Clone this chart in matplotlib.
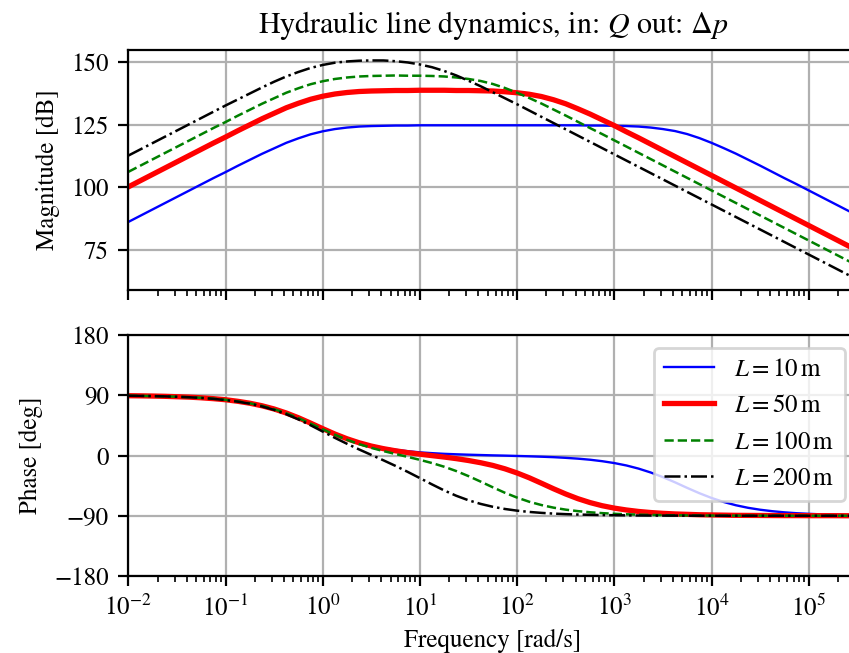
import numpy as np
import matplotlib
matplotlib.use("Agg")
import matplotlib.pyplot as plt

plt.rcParams['font.family'] = ['STIXGeneral', 'DejaVu Serif']
plt.rcParams['mathtext.fontset'] = 'stix'
plt.rcParams['font.size'] = 9

# log10 of frequency [rad/s]
freq_exp = [-2.0, -1.875, -1.75, -1.625, -1.5, -1.375, -1.25, -1.125,
            -1.0, -0.875, -0.75, -0.625, -0.5, -0.375, -0.25, -0.125,
            0.0, 0.125, 0.25, 0.375, 0.5, 0.625, 0.75, 0.875,
            1.0, 1.125, 1.25, 1.375, 1.5, 1.625, 1.75, 1.875,
            2.0, 2.125, 2.25, 2.375, 2.5, 2.625, 2.75, 2.875,
            3.0, 3.125, 3.25, 3.375, 3.5, 3.625, 3.75, 3.875,
            4.0, 4.125, 4.25, 4.375, 4.5, 4.625, 4.75, 4.875,
            5.0, 5.125, 5.25, 5.375, 5.5]

labels = [r'$L = 10\,\mathrm{m}$', r'$L = 50\,\mathrm{m}$',
          r'$L = 100\,\mathrm{m}$', r'$L = 200\,\mathrm{m}$']

# magnitude [dB]
mag_10 = [86.1, 88.6, 91.1, 93.6, 96.1, 98.6, 101.1, 103.6,
          106.0, 108.5, 110.9, 113.3, 115.5, 117.7, 119.5, 121.1,
          122.3, 123.2, 123.8, 124.2, 124.4, 124.5, 124.6, 124.6,
          124.7, 124.7, 124.7, 124.7, 124.7, 124.7, 124.7, 124.7,
          124.7, 124.7, 124.7, 124.7, 124.7, 124.7, 124.6, 124.6,
          124.5, 124.4, 124.2, 123.8, 123.2, 122.4, 121.2, 119.6,
          117.7, 115.6, 113.4, 111.0, 108.6, 106.1, 103.6, 101.2,
          98.7, 96.2, 93.7, 91.2, 88.7]
mag_50 = [100.1, 102.6, 105.1, 107.6, 110.1, 112.6, 115.1, 117.6,
          120.0, 122.5, 124.9, 127.3, 129.5, 131.7, 133.5, 135.1,
          136.3, 137.2, 137.8, 138.2, 138.4, 138.5, 138.6, 138.6,
          138.7, 138.7, 138.7, 138.6, 138.6, 138.5, 138.4, 138.1,
          137.7, 137.1, 136.2, 134.9, 133.3, 131.3, 129.2, 126.9,
          124.6, 122.1, 119.7, 117.2, 114.7, 112.2, 109.7, 107.2,
          104.7, 102.2, 99.7, 97.2, 94.7, 92.2, 89.7, 87.2,
          84.7, 82.2, 79.7, 77.2, 74.7]
mag_100 = [106.1, 108.6, 111.1, 113.6, 116.1, 118.6, 121.1, 123.6,
           126.0, 128.5, 130.9, 133.3, 135.5, 137.7, 139.5, 141.1,
           142.3, 143.2, 143.8, 144.2, 144.4, 144.5, 144.6, 144.5,
           144.5, 144.4, 144.2, 143.8, 143.2, 142.4, 141.2, 139.6,
           137.7, 135.6, 133.4, 131.0, 128.6, 126.1, 123.6, 121.2,
           118.7, 116.2, 113.7, 111.2, 108.7, 106.2, 103.7, 101.2,
           98.7, 96.2, 93.7, 91.2, 88.7, 86.2, 83.7, 81.2,
           78.7, 76.2, 73.7, 71.2, 68.7]
mag_200 = [112.6, 115.1, 117.6, 120.1, 122.6, 125.1, 127.6, 130.1,
           132.6, 135.0, 137.4, 139.8, 142.1, 144.2, 146.0, 147.6,
           148.8, 149.7, 150.2, 150.5, 150.6, 150.6, 150.3, 149.8,
           149.0, 147.9, 146.4, 144.6, 142.5, 140.3, 137.9, 135.5,
           133.1, 130.6, 128.1, 125.6, 123.1, 120.6, 118.1, 115.6,
           113.1, 110.6, 108.1, 105.6, 103.1, 100.6, 98.1, 95.6,
           93.1, 90.6, 88.1, 85.6, 83.1, 80.6, 78.1, 75.6,
           73.1, 70.6, 68.1, 65.6, 63.1]

# phase [deg]
phase_10 = [89.3, 89.1, 88.8, 88.4, 87.9, 87.2, 86.2, 85.0,
            83.3, 81.1, 78.2, 74.4, 69.6, 63.6, 56.5, 48.6,
            40.3, 32.5, 25.5, 19.7, 15.0, 11.3, 8.5, 6.4,
            4.7, 3.5, 2.5, 1.8, 1.2, 0.7, 0.2, -0.2,
            -0.7, -1.2, -1.8, -2.5, -3.5, -4.7, -6.3, -8.5,
            -11.3, -14.9, -19.6, -25.4, -32.3, -40.1, -48.4, -56.3,
            -63.4, -69.4, -74.3, -78.1, -81.0, -83.2, -84.9, -86.2,
            -87.1, -87.9, -88.4, -88.8, -89.1]
phase_50 = [89.3, 89.1, 88.8, 88.4, 87.8, 87.2, 86.2, 84.9,
            83.3, 81.0, 78.1, 74.3, 69.5, 63.5, 56.4, 48.4,
            40.1, 32.1, 25.0, 19.0, 14.1, 10.2, 7.0, 4.3,
            2.0, -0.2, -2.3, -4.7, -7.5, -10.8, -14.8, -19.9,
            -26.1, -33.3, -41.4, -49.7, -57.5, -64.5, -70.3, -75.0,
            -78.6, -81.4, -83.6, -85.2, -86.4, -87.3, -87.9, -88.5,
            -88.8, -89.1, -89.4, -89.5, -89.6, -89.7, -89.8, -89.8,
            -89.9, -89.9, -89.9, -90.0, -90.0]
phase_100 = [89.3, 89.1, 88.8, 88.4, 87.8, 87.1, 86.2, 84.9,
             83.2, 80.9, 78.0, 74.1, 69.2, 63.1, 55.9, 47.7,
             39.2, 31.0, 23.5, 17.0, 11.4, 6.6, 2.2, -2.1,
             -6.5, -11.3, -16.8, -23.3, -30.8, -39.0, -47.5, -55.7,
             -62.9, -69.1, -74.0, -77.9, -80.9, -83.1, -84.8, -86.1,
             -87.1, -87.8, -88.4, -88.8, -89.1, -89.3, -89.5, -89.6,
             -89.7, -89.8, -89.8, -89.9, -89.9, -89.9, -89.9, -90.0,
             -90.0, -90.0, -90.0, -90.0, -90.0]
phase_200 = [89.3, 89.0, 88.7, 88.3, 87.7, 87.0, 86.0, 84.6,
             82.8, 80.5, 77.4, 73.3, 68.1, 61.7, 53.9, 45.2,
             35.8, 26.4, 17.5, 9.0, 0.9, -7.2, -15.6, -24.5,
             -33.8, -43.2, -52.2, -60.2, -66.9, -72.3, -76.6, -79.9,
             -82.4, -84.3, -85.7, -86.8, -87.6, -88.2, -88.6, -89.0,
             -89.2, -89.4, -89.6, -89.7, -89.8, -89.8, -89.9, -89.9,
             -89.9, -90.0, -90.0, -90.0, -90.0, -90.0, -90.0, -90.0,
             -90.0, -90.0, -90.0, -90.0, -90.0]

phase_ticks = [-180, -90, 0, 90, 180]
mag_ticks = [75, 100, 125, 150]

freq = 10.0 ** np.array(freq_exp)
mags = [mag_10, mag_50, mag_100, mag_200]
phases = [phase_10, phase_50, phase_100, phase_200]
styles = [dict(color='b', lw=0.85, ls='-'),
          dict(color='r', lw=1.9, ls='-'),
          dict(color='g', lw=0.9, ls='--'),
          dict(color='k', lw=0.9, ls='-.')]

W, H = 849, 653
fig = plt.figure(figsize=(W / 200, H / 200), dpi=200)
left = 128.3 / W
width = (857.3 - 128.3) / W
ax1 = fig.add_axes([left, (H - 290.5) / H, width, 241 / H])
ax2 = fig.add_axes([left, (H - 576.0) / H, width, 241 / H], sharex=ax1)

for m, p, st, lab in zip(mags, phases, styles, labels):
    ax1.semilogx(freq, m, label=lab, **st)
    ax2.semilogx(freq, p, label=lab, **st)

ax1.set_xlim(freq[0], freq[-1])
ax1.set_yticks(mag_ticks)
ax1.set_ylabel('Magnitude [dB]')
ax1.set_title(r'Hydraulic line dynamics, in: $Q$ out: $\Delta p$')
ax1.grid(True)
ax1.tick_params(labelbottom=False)

ax2.set_ylim(-180, 180)
ax2.set_yticks(phase_ticks)
ax2.set_ylabel('Phase [deg]')
ax2.set_xlabel('Frequency [rad/s]', labelpad=2.5)
ax2.grid(True)
ax2.legend(loc='upper right')

fig.savefig('out.png', dpi=200)
